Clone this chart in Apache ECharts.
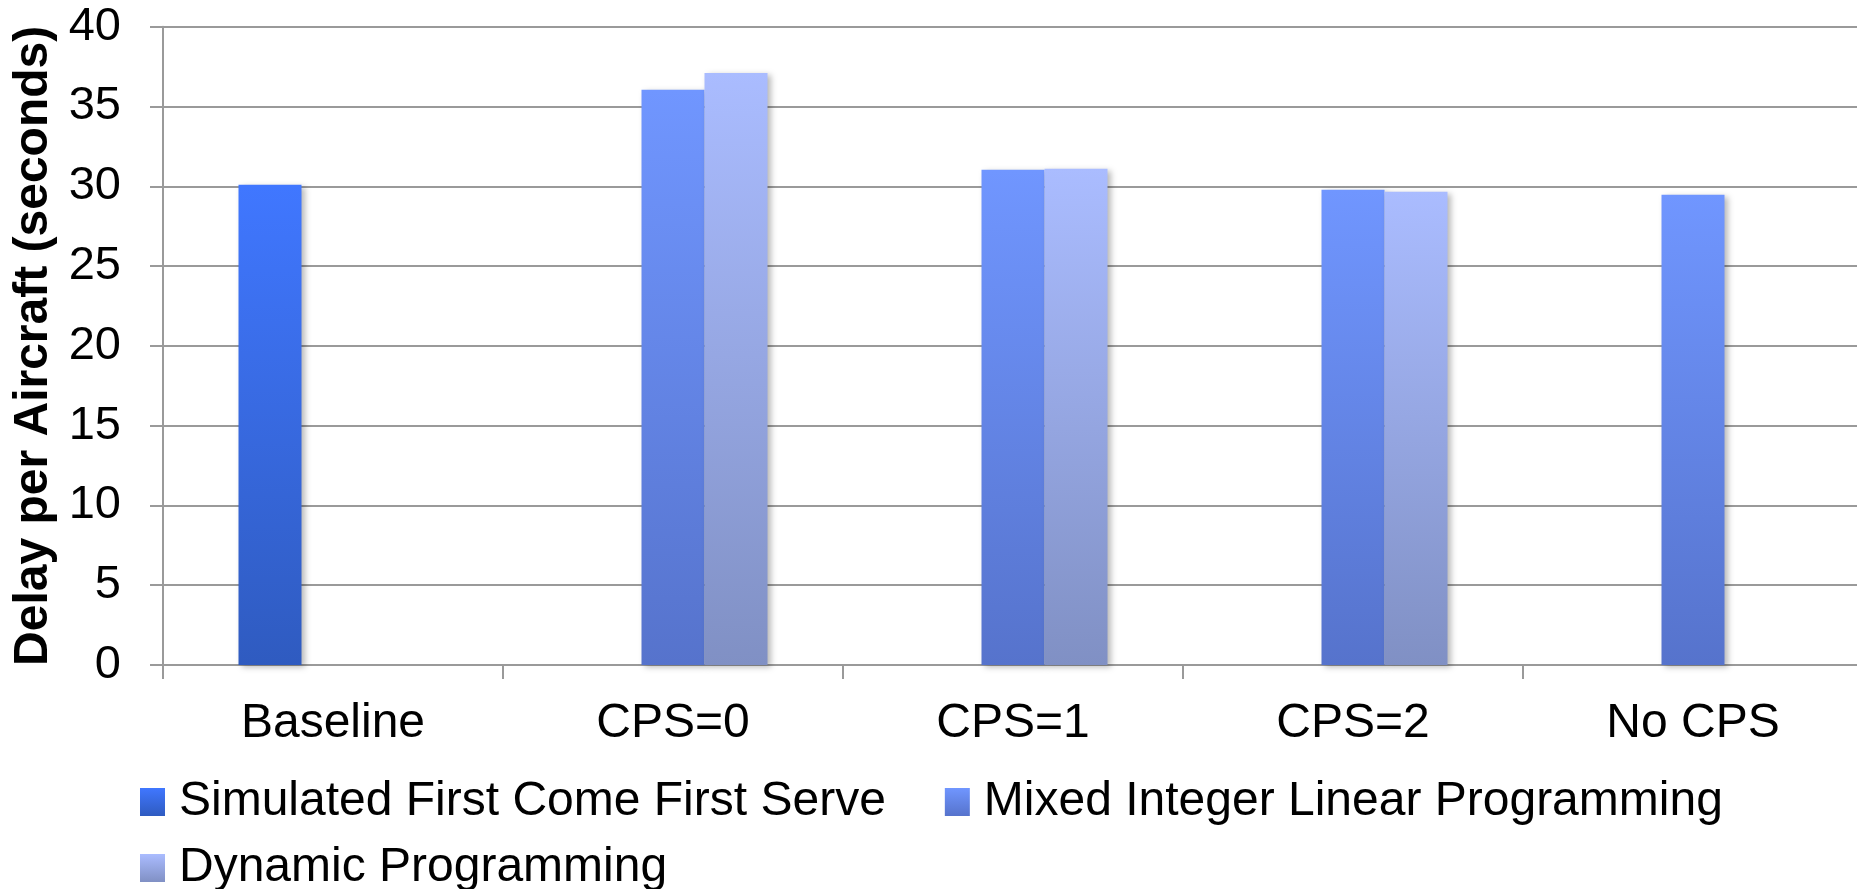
<!DOCTYPE html>
<html>
<head>
<meta charset="utf-8">
<script src="https://cdn.jsdelivr.net/npm/echarts@6/dist/echarts.min.js"></script>
<style>
  html, body { margin: 0; padding: 0; background: #fff; }
  #chart { width: 1857px; height: 889px; }
</style>
</head>
<body>
<div id="chart"></div>
<script>
// data
const categories = ["Baseline", "CPS=0", "CPS=1", "CPS=2", "No CPS"];
const fcfsValues = [30.1, null, null, null, null];
const milpValues = [null, 36.05, 31.03, 29.78, 29.47];
const dpValues = [null, 37.1, 31.1, 29.65, null];
const yTicks = [0, 5, 10, 15, 20, 25, 30, 35, 40];

const FONT = "'Liberation Sans', Arial, sans-serif";

function grad(top, bottom) {
  return new echarts.graphic.LinearGradient(0, 0, 0, 1, [
    { offset: 0, color: top },
    { offset: 1, color: bottom },
  ]);
}

const barShadow = {
  shadowBlur: 6,
  shadowOffsetX: 3,
  shadowOffsetY: 2,
  shadowColor: "rgba(0,0,0,0.28)",
};

const chart = echarts.init(document.getElementById("chart"));

let option = {
  animation: false,
  grid: {
    left: 163,
    top: 26.7,
    width: 1700,
    height: 638.3,
    containLabel: false,
    outerBoundsMode: "none",
  },
  legend: [
    {
      data: ["Simulated First Come First Serve", "Mixed Integer Linear Programming"],
      left: 140,
      top: 778,
      padding: 0,
      icon: "rect",
      itemWidth: 25,
      itemHeight: 28,
      itemGap: 59,
      textStyle: { fontFamily: FONT, fontSize: 48, color: "#000", padding: [0, 0, 0, 9] },
    },
    {
      data: ["Dynamic Programming"],
      left: 140,
      top: 844,
      padding: 0,
      icon: "rect",
      itemWidth: 25,
      itemHeight: 28,
      textStyle: { fontFamily: FONT, fontSize: 48, color: "#000", padding: [0, 0, 0, 9] },
    },
  ],
  xAxis: {
    type: "category",
    data: categories,
    axisLine: { lineStyle: { color: "#9a9a9a", width: 2 } },
    axisTick: { show: true, length: 14, lineStyle: { color: "#9a9a9a", width: 2 } },
    axisLabel: { fontFamily: FONT, fontSize: 48, color: "#000", margin: 35 },
  },
  yAxis: {
    type: "value",
    min: yTicks[0],
    max: yTicks[yTicks.length - 1],
    interval: 5,
    name: "Delay per Aircraft (seconds)",
    nameLocation: "middle",
    nameGap: 101,
    nameTextStyle: { fontFamily: FONT, fontSize: 48, fontWeight: "bold", color: "#000" },
    axisLine: { show: true, lineStyle: { color: "#9a9a9a", width: 2 } },
    axisTick: { show: true, length: 13, lineStyle: { color: "#9a9a9a", width: 2 } },
    axisLabel: { fontFamily: FONT, fontSize: 47, color: "#000", margin: 42 },
    splitLine: { lineStyle: { color: "#9a9a9a", width: 2 } },
  },
  series: [
    {
      name: "Simulated First Come First Serve",
      type: "bar",
      data: fcfsValues,
      barWidth: 63,
      barGap: "0%",
      itemStyle: Object.assign({ color: grad("#4077ff", "#2f5bc0") }, barShadow),
    },
    {
      name: "Mixed Integer Linear Programming",
      type: "bar",
      data: milpValues,
      barWidth: 63,
      barGap: "0%",
      itemStyle: Object.assign({ color: grad("#7096ff", "#5673cc") }, barShadow),
    },
    {
      name: "Dynamic Programming",
      type: "bar",
      data: dpValues,
      barWidth: 63,
      barGap: "0%",
      itemStyle: Object.assign({ color: grad("#aabcff", "#8090c4") }, barShadow),
    },
  ],
};

chart.setOption(option);
</script>
</body>
</html>
